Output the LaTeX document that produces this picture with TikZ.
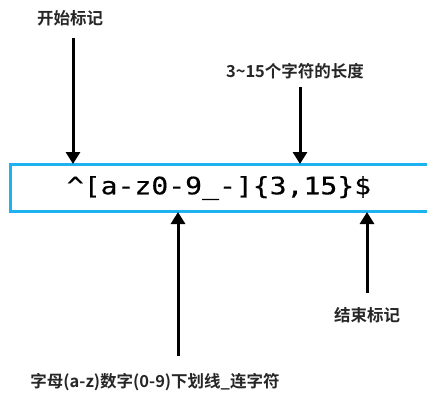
\documentclass[tikz,border=0pt]{standalone}
\usepackage{fontspec}
\newfontfamily\cjk{Noto Sans CJK SC}[BoldFont={* Bold}]
\newfontfamily\monof{DejaVu Sans Mono}[FakeStretch=1.17,FakeBold=0.4]
\usetikzlibrary{arrows.meta}
\definecolor{boxblue}{RGB}{30,178,240}
\begin{document}
\begin{tikzpicture}[x=1pt,y=-1pt,
  lbl/.style={font=\cjk\bfseries\fontsize{16.5}{18}\selectfont, inner sep=0pt, text=black!85},
  arr/.style={line width=3pt, -{Triangle[width=14pt,length=12pt]}, black}]
\useasboundingbox (0,0) rectangle (427,392);
\clip (0,0) rectangle (427,392);
\draw[boxblue, line width=3pt] (440,164) -- (10,164) -- (10,211) -- (440,211);
\node[inner sep=0pt, font=\monof\fontsize{24}{26}\selectfont] (re) at (219,188) {\^{}[a-z0-9\_-]\{3,15\}\$};
\node[lbl] (l1) at (70,18) {开始标记};
\node[lbl] (l2) at (295,71) {3\textasciitilde 15个字符的长度};
\node[lbl] (l3) at (155,382) {字母(a-z)数字(0-9)下划线\_连字符};
\node[lbl] (l4) at (367,315) {结束标记};
\coordinate (s1) at (73,38);  \coordinate (e1) at (73,164);
\coordinate (s2) at (300,87); \coordinate (e2) at (300,164);
\coordinate (s3) at (178,356); \coordinate (e3) at (178,212);
\coordinate (s4) at (367,293); \coordinate (e4) at (367,212);
\draw[arr] (s1) -- (e1);
\draw[arr] (s2) -- (e2);
\draw[arr] (s3) -- (e3);
\draw[arr] (s4) -- (e4);
\end{tikzpicture}
\end{document}
